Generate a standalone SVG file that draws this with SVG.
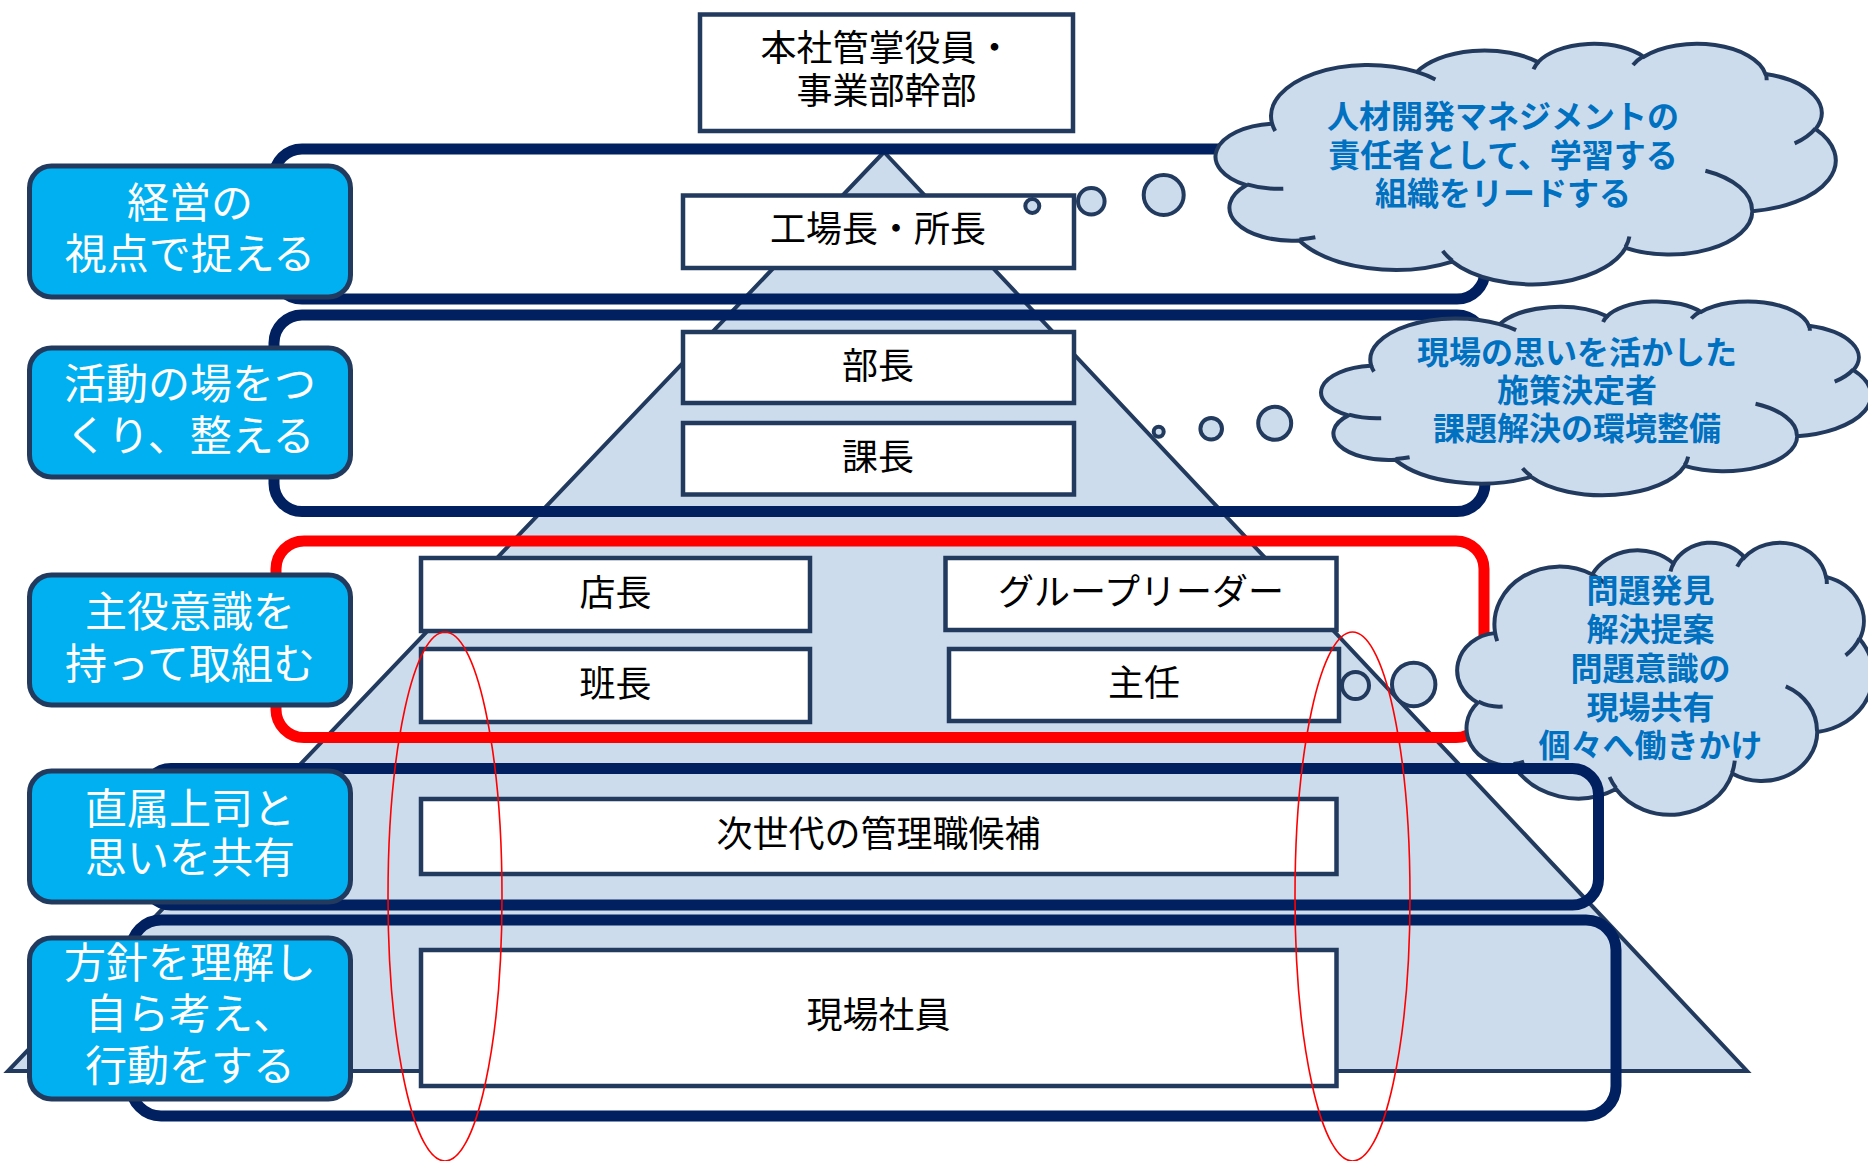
<svg xmlns="http://www.w3.org/2000/svg" width="1868" height="1161" viewBox="0 0 1868 1161">
<defs>
<style>
.tri{fill:#CCDCEC;stroke:#223A5E;stroke-width:4;stroke-linejoin:miter}
.box{fill:#FFFFFF;stroke:#223A5E;stroke-width:4.5}
.btxt{font-family:"Noto Sans CJK JP","Noto Sans CJK SC",sans-serif;font-size:36px;fill:#000000;text-anchor:middle;dominant-baseline:central}
.band{fill:none;stroke:#002060;stroke-width:11}
.red{fill:none;stroke:#FF0000;stroke-width:11}
.lbl{fill:#00B0F0;stroke:#223A5E;stroke-width:5}
.ltxt{font-family:"Noto Sans CJK JP","Noto Sans CJK SC",sans-serif;font-size:42px;fill:#FFFFFF;text-anchor:middle;dominant-baseline:central}
.cloud{fill:#CCDCEC;stroke:#223A5E;stroke-width:4}
.crease{fill:none;stroke:#223A5E;stroke-width:4}
.ctxt{font-family:"Noto Sans CJK JP","Noto Sans CJK SC",sans-serif;font-size:32px;font-weight:bold;fill:#0070C0;text-anchor:middle;dominant-baseline:central}
.bub{fill:#CCDCEC;stroke:#223A5E;stroke-width:4}
.ell{fill:none;stroke:#FF0000;stroke-width:1.6}
</style>
<path id="cloudShape" vector-effect="non-scaling-stroke" d="M 3900 14370 A 6753 9190 0 0 1 14005 5202 A 5333 7267 0 0 1 22456 3432 A 4365 5945 0 0 1 29833 2480 A 4857 6595 0 0 1 38318 5575 A 5333 7273 0 0 1 41818 15459 A 6775 9220 0 0 1 37404 30202 A 5785 7867 0 0 1 28556 36813 A 6752 9215 0 0 1 16481 39265 A 7720 10543 0 0 1 5806 35471 A 4360 5918 0 0 1 2114 25549 A 4345 5945 0 0 1 3864 14506 Z"/>
<path id="cloudCrease" vector-effect="non-scaling-stroke" d="M 4693 26177 A 4345 5945 0 0 1 2160 25380 M 6928 34899 A 4360 5918 0 0 1 5820 35281 M 16478 39090 A 6752 9215 0 0 1 15810 37348 M 28827 34751 A 6752 9215 0 0 1 28560 36660 M 34129 22954 A 5785 7867 0 0 1 37380 30090 M 41798 15354 A 5333 7273 0 0 1 40350 18030 M 38324 5426 A 4857 6595 0 0 1 38400 6690 M 29078 3952 A 4857 6595 0 0 1 29820 2340 M 22141 4720 A 4365 5945 0 0 1 22500 3330 M 14000 5192 A 6753 9190 0 0 1 15300 6541 M 4127 15789 A 6753 9190 0 0 1 3900 14371"/>
</defs>

<g id="pyramid">
<polygon class="tri" points="884,152 1747,1071 8,1071"/>
</g>

<g id="node-honsha">
<rect class="box" x="700" y="14.5" width="373" height="116.5"/>
<text class="btxt"><tspan x="886.5" y="44.5">本社管掌役員・</tspan><tspan x="886.5" y="87.5">事業部幹部</tspan></text>
</g>
<g id="node-kojocho">
<rect class="box" x="683" y="195.5" width="391" height="72.5"/>
<text class="btxt" x="878" y="226">工場長・所長</text>
</g>
<g id="node-bucho">
<rect class="box" x="683" y="332" width="391" height="71"/>
<text class="btxt" x="878" y="363">部長</text>
</g>
<g id="node-kacho">
<rect class="box" x="683" y="423" width="391" height="71.5"/>
<text class="btxt" x="878" y="454">課長</text>
</g>
<g id="node-tencho">
<rect class="box" x="421" y="558" width="389" height="73"/>
<text class="btxt" x="615.5" y="590">店長</text>
</g>
<g id="node-hancho">
<rect class="box" x="421" y="649" width="389" height="73"/>
<text class="btxt" x="615.5" y="681">班長</text>
</g>
<g id="node-groupleader">
<rect class="box" x="945.5" y="558" width="391" height="72"/>
<text class="btxt" x="1141" y="589">グループリーダー</text>
</g>
<g id="node-shunin">
<rect class="box" x="949" y="649" width="390" height="72"/>
<text class="btxt" x="1144" y="680">主任</text>
</g>
<g id="node-jisedai">
<rect class="box" x="421" y="799" width="915.5" height="75"/>
<text class="btxt" x="878.5" y="831">次世代の管理職候補</text>
</g>
<g id="node-genba">
<rect class="box" x="421" y="950" width="915.5" height="136"/>
<text class="btxt" x="878.5" y="1012">現場社員</text>
</g>

<g id="band-1"><rect class="band" x="274" y="149" width="1211" height="150" rx="28"/></g>
<g id="band-2"><rect class="band" x="274" y="315" width="1211" height="196.5" rx="28"/></g>
<g id="band-red"><rect class="red" x="276" y="541" width="1208" height="196.5" rx="28"/></g>

<g id="cloud-1">
<g transform="translate(1216,43) scale(0.014340,0.005567)">
<use href="#cloudShape" class="cloud"/>
<use href="#cloudCrease" class="crease"/>
</g>
<text class="ctxt"><tspan x="1503" y="114">人材開発マネジメントの</tspan><tspan x="1503" y="153">責任者として、学習する</tspan><tspan x="1503" y="191">組織をリードする</tspan></text>
</g>
<g id="cloud-2">
<g transform="translate(1321.5,300.8) scale(0.012718,0.004484)">
<use href="#cloudShape" class="cloud"/>
<use href="#cloudCrease" class="crease"/>
</g>
<text class="ctxt"><tspan x="1577" y="350">現場の思いを活かした</tspan><tspan x="1577" y="388">施策決定者</tspan><tspan x="1577" y="426">課題解決の環境整備</tspan></text>
</g>
<g id="cloud-3">
<g transform="translate(1457.5,541.8) scale(0.009618,0.006296)">
<use href="#cloudShape" class="cloud"/>
<use href="#cloudCrease" class="crease"/>
</g>
<text class="ctxt"><tspan x="1650.5" y="588">問題発見</tspan><tspan x="1650.5" y="627">解決提案</tspan><tspan x="1650.5" y="666">問題意識の</tspan><tspan x="1650.5" y="704.5">現場共有</tspan><tspan x="1650.5" y="743">個々へ働きかけ</tspan></text>
</g>

<g id="connectors">
<circle class="bub" cx="1032.3" cy="206" r="7"/>
<circle class="bub" cx="1091.3" cy="201.3" r="13.3"/>
<circle class="bub" cx="1163.7" cy="195" r="20"/>
<circle class="bub" cx="1158.7" cy="431.7" r="5"/>
<circle class="bub" cx="1211.2" cy="428.8" r="10.8"/>
<circle class="bub" cx="1274.7" cy="423.3" r="16.5"/>
<circle class="bub" cx="1355.5" cy="685.5" r="13.5"/>
<circle class="bub" cx="1413.7" cy="684.5" r="21.7"/>
</g>

<g id="band-3"><rect class="band" x="145" y="768.5" width="1453.5" height="136.5" rx="26"/></g>
<g id="band-4"><rect class="band" x="131" y="920" width="1485" height="196" rx="30"/></g>

<g id="label-1">
<rect class="lbl" x="29.5" y="166" width="321" height="131" rx="22"/>
<text class="ltxt"><tspan x="190" y="199">経営の</tspan><tspan x="190" y="250">視点で捉える</tspan></text>
</g>
<g id="label-2">
<rect class="lbl" x="29.5" y="348" width="321" height="129" rx="22"/>
<text class="ltxt"><tspan x="190" y="380">活動の場をつ</tspan><tspan x="190" y="432">くり、整える</tspan></text>
</g>
<g id="label-3">
<rect class="lbl" x="29.5" y="575" width="321" height="130" rx="22"/>
<text class="ltxt"><tspan x="190" y="608">主役意識を</tspan><tspan x="190" y="660">持って取組む</tspan></text>
</g>
<g id="label-4">
<rect class="lbl" x="29.5" y="771" width="321" height="131" rx="22"/>
<text class="ltxt"><tspan x="190" y="805">直属上司と</tspan><tspan x="190" y="854">思いを共有</tspan></text>
</g>
<g id="label-5">
<rect class="lbl" x="29.5" y="938" width="321" height="161" rx="22"/>
<text class="ltxt"><tspan x="190" y="959">方針を理解し</tspan><tspan x="190" y="1010">自ら考え、</tspan><tspan x="190" y="1062">行動をする</tspan></text>
</g>

<g id="highlights">
<ellipse class="ell" cx="445" cy="896.5" rx="57" ry="264.5"/>
<ellipse class="ell" cx="1352.5" cy="896.5" rx="57.5" ry="264.5"/>
</g>
</svg>
